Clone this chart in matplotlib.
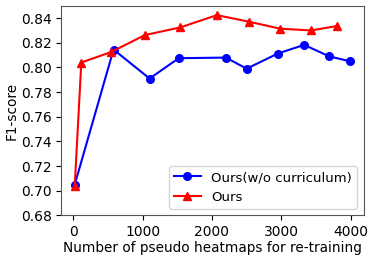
import matplotlib
matplotlib.use("Agg")
import matplotlib.pyplot as plt

# ── data ──
x_nocur = [20, 580, 1100, 1520, 2200, 2500, 2950, 3330, 3690, 3990]
f1_nocur = [0.705, 0.8145, 0.791, 0.8075, 0.808, 0.799, 0.8113, 0.8183, 0.809, 0.805]

x_ours = [20, 115, 545, 1030, 1545, 2070, 2540, 2985, 3430, 3805]
f1_ours = [0.704, 0.804, 0.8125, 0.8262, 0.8325, 0.8424, 0.837, 0.8314, 0.830, 0.8336]

yticks = [0.68, 0.70, 0.72, 0.74, 0.76, 0.78, 0.80, 0.82, 0.84]
xticks = [0, 1000, 2000, 3000, 4000]

fig = plt.figure(figsize=(3.74, 2.62), dpi=100)
ax = fig.add_axes([0.163, 0.1775, 0.8095, 0.8005])

ax.plot(x_nocur, f1_nocur, color="blue", marker="o", markersize=5.5,
        linewidth=1.5, label="Ours(w/o curriculum)")
ax.plot(x_ours, f1_ours, color="red", marker="^", markersize=5.5,
        linewidth=1.5, label="Ours")

ax.set_ylim(0.68, 0.85)
ax.set_yticks(yticks)
ax.set_xticks(xticks)
ax.tick_params(labelsize=10, pad=3)
ax.set_xlabel("Number of pseudo heatmaps for re-training", fontsize=9.8, labelpad=2)
ax.set_ylabel("F1-score", fontsize=9.8, labelpad=2)
ax.legend(loc="lower right", fontsize=9.5)

for s in ax.spines.values():
    s.set_color("#555555")

fig.savefig("out.png", dpi=100, facecolor="white")
